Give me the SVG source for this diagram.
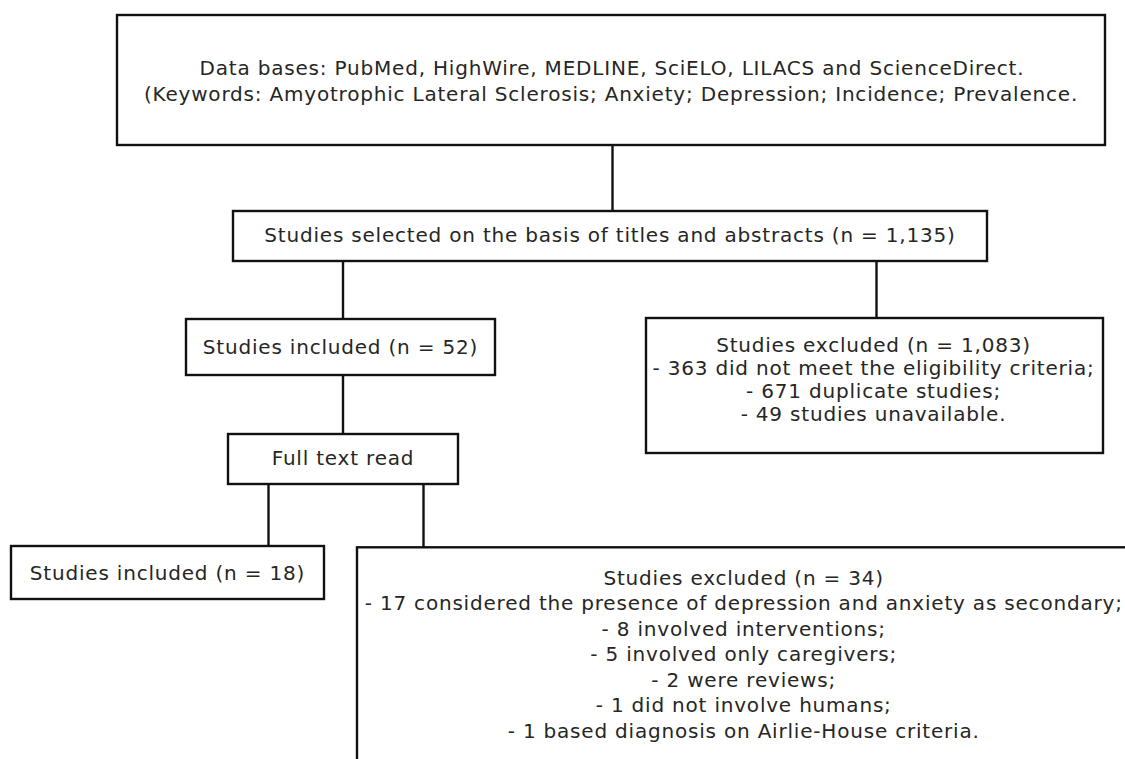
<svg xmlns="http://www.w3.org/2000/svg" width="1125" height="759" viewBox="0 0 1125 759">
<style>
  .box { fill: #ffffff; stroke: #111111; stroke-width: 2.4; }
  .lbl { font-family: "DejaVu Sans", Verdana, sans-serif; font-size: 20px; letter-spacing: 0.8px; fill: #262626; text-anchor: middle; }
  .conn line { stroke: #111111; stroke-width: 2.4; }
</style>
<rect x="0" y="0" width="1125" height="759" fill="#ffffff"/>
<g class="conn" id="connectors">
  <line x1="612.5" y1="145" x2="612.5" y2="211"/>
  <line x1="343" y1="261" x2="343" y2="319"/>
  <line x1="876.5" y1="261" x2="876.5" y2="318"/>
  <line x1="343" y1="375" x2="343" y2="434"/>
  <line x1="268.5" y1="484" x2="268.5" y2="546"/>
  <line x1="423.5" y1="484" x2="423.5" y2="547"/>
</g>
<g id="databases">
  <rect class="box" x="117" y="15" width="988" height="130"/>
  <text class="lbl" x="612" y="74.5">Data bases: PubMed, HighWire, MEDLINE, SciELO, LILACS and ScienceDirect.</text>
  <text class="lbl" x="611" y="100.5">(Keywords: Amyotrophic Lateral Sclerosis; Anxiety; Depression; Incidence; Prevalence.</text>
</g>
<g id="selected">
  <rect class="box" x="233" y="211" width="754" height="50"/>
  <text class="lbl" x="610" y="241.5">Studies selected on the basis of titles and abstracts (n = 1,135)</text>
</g>
<g id="included52">
  <rect class="box" x="186" y="319" width="309" height="56"/>
  <text class="lbl" x="340.5" y="353.5">Studies included (n = 52)</text>
</g>
<g id="excluded1083">
  <rect class="box" x="646" y="318" width="457" height="135"/>
  <text class="lbl" x="873.5" y="351.5">Studies excluded (n = 1,083)</text>
  <text class="lbl" x="873.5" y="374.5">- 363 did not meet the eligibility criteria;</text>
  <text class="lbl" x="873.5" y="397.5">- 671 duplicate studies;</text>
  <text class="lbl" x="873.5" y="420.5">- 49 studies unavailable.</text>
</g>
<g id="fulltext">
  <rect class="box" x="228" y="434" width="230" height="50"/>
  <text class="lbl" x="343" y="465">Full text read</text>
</g>
<g id="included18">
  <rect class="box" x="11" y="546" width="313" height="53"/>
  <text class="lbl" x="167.5" y="579.5">Studies included (n = 18)</text>
</g>
<g id="excluded34">
  <rect class="box" x="357" y="547.3" width="774" height="260"/>
  <text class="lbl" x="743.7" y="584.7">Studies excluded (n = 34)</text>
  <text class="lbl" x="743.7" y="610">- 17 considered the presence of depression and anxiety as secondary;</text>
  <text class="lbl" x="743.7" y="635.5">- 8 involved interventions;</text>
  <text class="lbl" x="743.7" y="661">- 5 involved only caregivers;</text>
  <text class="lbl" x="743.7" y="686.5">- 2 were reviews;</text>
  <text class="lbl" x="743.7" y="712">- 1 did not involve humans;</text>
  <text class="lbl" x="743.7" y="737.5">- 1 based diagnosis on Airlie-House criteria.</text>
</g>
</svg>
